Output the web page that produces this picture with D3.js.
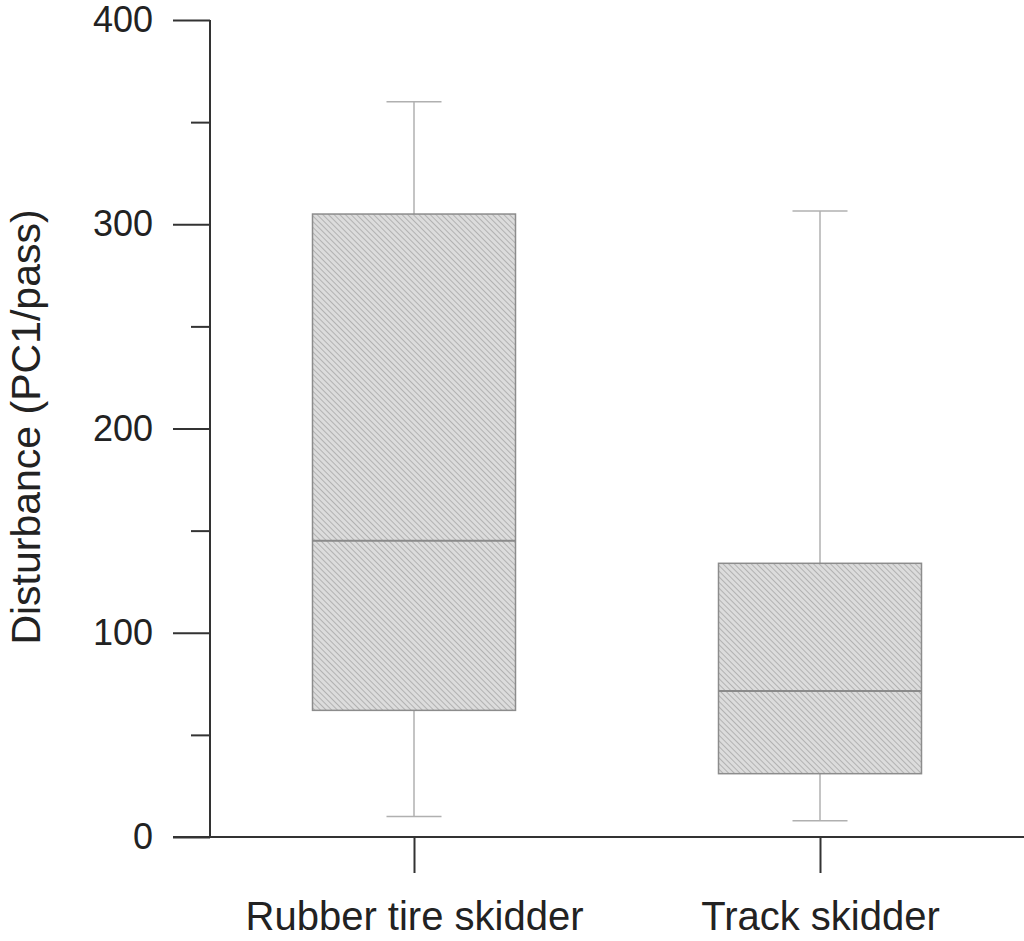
<!DOCTYPE html>
<html><head><meta charset="utf-8">
<script src="https://cdn.jsdelivr.net/npm/d3@7"></script>
<style>body{margin:0;background:#fff}svg{display:block}text{font-family:"Liberation Sans",Arial,sans-serif;fill:#222}</style>
</head><body>
<script>
const categories = ["Rubber tire skidder", "Track skidder"];
const whiskerLow = [10, 8];
const q1 = [62, 31];
const median = [145, 71.5];
const q3 = [305, 134];
const whiskerHigh = [360, 306.5];
const majorTicks = [0, 100, 200, 300, 400];
const minorTicks = [50, 150, 250, 350];
const yLabel = "Disturbance (PC1/pass)";

const W = 1024, H = 941;
const svg = d3.select("body").append("svg").attr("width", W).attr("height", H);
const defs = svg.append("defs");
const pat = defs.append("pattern").attr("id","hatch").attr("patternUnits","userSpaceOnUse")
  .attr("width",4).attr("height",4).attr("patternTransform","rotate(-45)");
pat.append("rect").attr("width",4).attr("height",4).attr("fill","#dcdcdc");
pat.append("line").attr("x1",0).attr("y1",0).attr("x2",0).attr("y2",4).attr("stroke","#a8a8a8").attr("stroke-width",1.6);

const y = d3.scaleLinear().domain([0,400]).range([837,20]);
const x = d3.scalePoint().domain(categories).range([414,820]);
const boxW = 203, capW = 55;
const axisX = 210;

// y axis
const gy = svg.append("g").attr("transform",`translate(${axisX},0)`);
gy.call(d3.axisLeft(y).tickValues(majorTicks).tickSize(37).tickPadding(20).tickFormat(d3.format("d")));
gy.select(".domain").remove();
gy.selectAll(".tick line").attr("stroke","#333").attr("stroke-width",2);
gy.selectAll(".tick text").attr("font-size",36).attr("fill","#222").style("font-family","Liberation Sans, Arial, sans-serif");
const gm = svg.append("g").attr("transform",`translate(${axisX},0)`);
gm.call(d3.axisLeft(y).tickValues(minorTicks).tickSize(19).tickFormat(""));
gm.select(".domain").remove();
gm.selectAll(".tick line").attr("stroke","#333").attr("stroke-width",2);
svg.append("line").attr("x1",axisX).attr("x2",axisX).attr("y1",y(400)).attr("y2",y(0)).attr("stroke","#333").attr("stroke-width",2);

// x axis
svg.append("line").attr("x1",173).attr("x2",W).attr("y1",y(0)).attr("y2",y(0)).attr("stroke","#333").attr("stroke-width",2);
const gx = svg.append("g").attr("transform",`translate(0,${y(0)})`);
gx.call(d3.axisBottom(x).tickSize(36).tickPadding(29));
gx.select(".domain").remove();
gx.selectAll(".tick line").attr("stroke","#333").attr("stroke-width",2);
gx.selectAll(".tick text").attr("font-size",40).attr("fill","#222").style("font-family","Liberation Sans, Arial, sans-serif");

// y label
svg.append("text").attr("transform",`translate(40,427) rotate(-90)`)
  .attr("text-anchor","middle").attr("font-size",41).text(yLabel);

// boxes
categories.forEach((c,i)=>{
  const cx = x(c);
  const g = svg.append("g");
  g.append("line").attr("x1",cx).attr("x2",cx).attr("y1",y(whiskerHigh[i])).attr("y2",y(q3[i])).attr("stroke","#b0b0b0").attr("stroke-width",1.5);
  g.append("line").attr("x1",cx).attr("x2",cx).attr("y1",y(q1[i])).attr("y2",y(whiskerLow[i])).attr("stroke","#b0b0b0").attr("stroke-width",1.5);
  g.append("line").attr("x1",cx-capW/2).attr("x2",cx+capW/2).attr("y1",y(whiskerHigh[i])).attr("y2",y(whiskerHigh[i])).attr("stroke","#b0b0b0").attr("stroke-width",1.5);
  g.append("line").attr("x1",cx-capW/2).attr("x2",cx+capW/2).attr("y1",y(whiskerLow[i])).attr("y2",y(whiskerLow[i])).attr("stroke","#b0b0b0").attr("stroke-width",1.5);
  g.append("rect").attr("x",cx-boxW/2).attr("width",boxW).attr("y",y(q3[i])).attr("height",y(q1[i])-y(q3[i]))
    .attr("fill","url(#hatch)").attr("stroke","#8c8c8c").attr("stroke-width",1.5);
  g.append("line").attr("x1",cx-boxW/2).attr("x2",cx+boxW/2).attr("y1",y(median[i])).attr("y2",y(median[i])).attr("stroke","#8a8a8a").attr("stroke-width",2);
});
</script>
</body></html>
